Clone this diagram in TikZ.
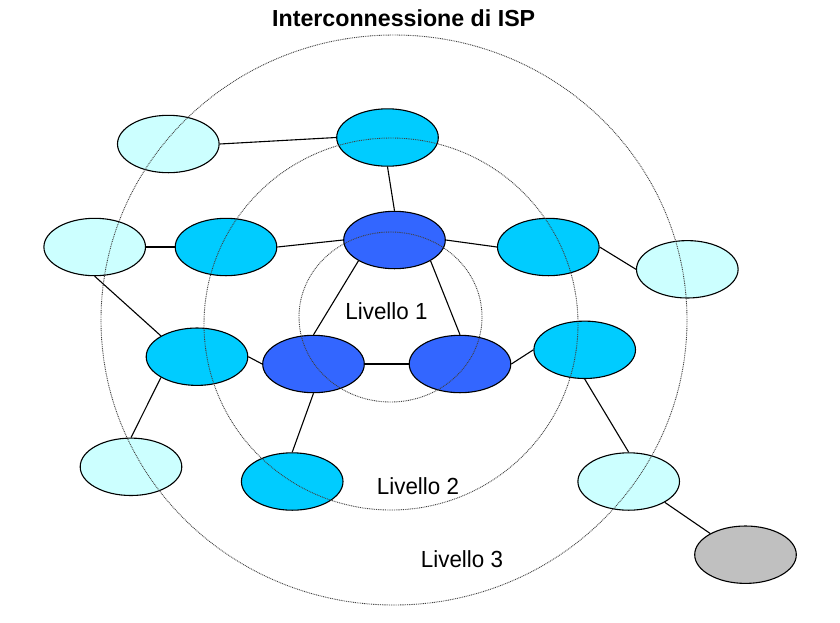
\documentclass[tikz,border=0pt]{standalone}
\usepackage{fontspec}
\setmainfont{Liberation Sans}
\usetikzlibrary{shapes.geometric}
\definecolor{lcyan}{HTML}{CCFFFF}
\definecolor{mcyan}{HTML}{00CCFF}
\definecolor{dblue}{HTML}{3366FF}
\definecolor{ggray}{HTML}{C0C0C0}
\tikzset{
  isp/.style={ellipse, draw=black, line width=1.1pt, inner sep=0pt,
              minimum width=101.6pt, minimum height=57.4pt},
  tier3/.style={isp, fill=lcyan},
  tier2/.style={isp, fill=mcyan},
  tier1/.style={isp, fill=dblue},
  local/.style={isp, fill=ggray},
  link/.style={draw=black, line width=1.1pt},
  ring/.style={draw=black!75, line width=0.9pt, dash pattern=on 0.9pt off 0.9pt},
  lbl/.style={anchor=base, inner sep=0pt, font=\fontsize{23.3}{28}\selectfont}
}
\begin{document}
\begin{tikzpicture}[x=1pt,y=-1pt]
\path[use as bounding box, fill=white] (0,0) rectangle (840,622);
% nodes
\node[tier3] (lc1) at (168.3,144) {};
\node[tier2] (ct)  at (387.5,137.5) {};
\node[tier3] (lc2) at (94.7,247) {};
\node[tier2] (c2)  at (226,247) {};
\node[tier1] (bt)  at (394.5,240) {};
\node[tier2] (c3)  at (548.3,247) {};
\node[tier3] (lc3) at (687.3,269.3) {};
\node[tier2] (c4)  at (197,356.7) {};
\node[tier1] (bl)  at (313.5,364) {};
\node[tier1] (br)  at (460,364) {};
\node[tier2] (c5)  at (584.7,349.8) {};
\node[tier3] (lc4) at (131,466.8) {};
\node[tier2] (c6)  at (292.2,481.5) {};
\node[tier3] (lc5) at (628.7,481.5) {};
\node[local] (gr)  at (745.5,554.7) {};
% links
\draw[link] (lc1.east) -- (ct.west);
\draw[link] (ct.south) -- (bt.north);
\draw[link] (lc2.east) -- (c2.west);
\draw[link] (c2.east) -- (bt.west);
\draw[link] (bt.east) -- (c3.west);
\draw[link] (c3.east) -- (lc3.west);
\draw[link] (lc2.south) -- (c4.150);
\draw[link] (bt.210) -- (bl.north);
\draw[link] (bt.330) -- (br.north);
\draw[link] (c4.east) -- (bl.west);
\draw[link] (bl.east) -- (br.west);
\draw[link] (br.east) -- (c5.west);
\draw[link] (c4.210) -- (lc4.north);
\draw[link] (bl.south) -- (c6.north);
\draw[link] (c5.south) -- (lc5.north);
\draw[link] (lc5.330) -- (gr.149);
% level rings
\draw[ring] (394,320) ellipse [x radius=293pt, y radius=285pt];
\draw[ring] (391,324) ellipse [x radius=187pt, y radius=186pt];
\draw[ring] (390.5,317) ellipse [x radius=91.5pt, y radius=85pt];
% labels
\node[anchor=base, inner sep=0pt, font=\fontsize{23.2}{28}\selectfont\bfseries] (title) at (403.7,26.7) {Interconnessione di ISP};
\node[lbl] (l1) at (386.5,319) {\scalebox{0.96}[1]{Livello 1}};
\node[lbl] (l2) at (418,494) {\scalebox{0.96}[1]{Livello 2}};
\node[lbl] (l3) at (462,567) {\scalebox{0.96}[1]{Livello 3}};
\end{tikzpicture}
\end{document}
